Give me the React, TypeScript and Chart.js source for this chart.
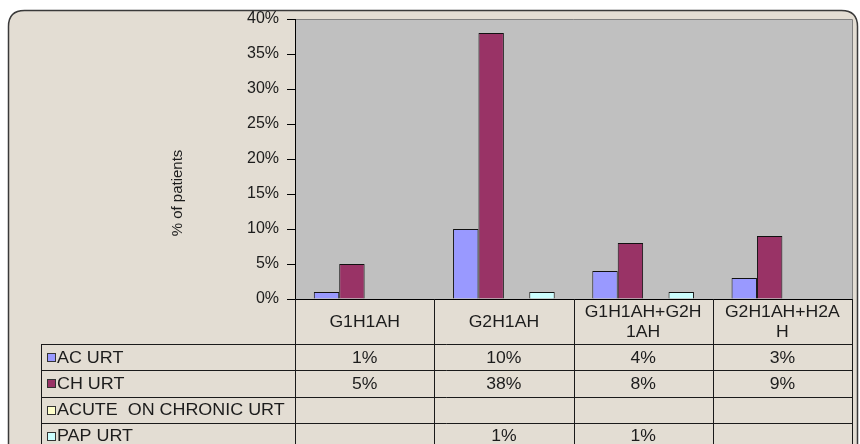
import React, { useEffect, useRef } from "react";
import { Chart, registerables } from "chart.js";

Chart.register(...registerables);

const categories = ["G1H1AH", "G2H1AH", "G1H1AH+G2H1AH", "G2H1AH+H2AH"];
const headerLines = [["G1H1AH"], ["G2H1AH"], ["G1H1AH+G2H", "1AH"], ["G2H1AH+H2A", "H"]];
const seriesNames = ["AC URT", "CH URT", "ACUTE  ON CHRONIC URT", "PAP URT"];
const acUrt = [1, 10, 4, 3];
const chUrt = [5, 38, 8, 9];
const acuteOnChronicUrt: (number | null)[] = [null, null, null, null];
const papUrt: (number | null)[] = [null, 1, 1, null];
const seriesColors = ["#9999FF", "#993366", "#FFFFCC", "#CCFFFF"];
const yTicks = [0, 5, 10, 15, 20, 25, 30, 35, 40];
const yTitle = "% of patients";

const FONT = '"Liberation Sans", Arial, sans-serif';
const TEXT = "#1c1c1c";

function stretchText(ctx: any, text: string, x: number, y: number, sx: number) {
  ctx.save();
  ctx.translate(x, y);
  ctx.scale(sx, 1);
  ctx.fillText(text, 0, 0);
  ctx.restore();
}

const tablePlugin = {
  id: "excelTable",
  beforeDraw(chart: any) {
    const { ctx, chartArea } = chart;
    ctx.save();
    ctx.fillStyle = "#ffffff";
    ctx.fillRect(0, 0, chart.width, chart.height);
    const fx = 8.5, fy = 10.5, fw = 849, fh = 470, r = 16;
    ctx.beginPath();
    ctx.moveTo(fx + r, fy);
    ctx.lineTo(fx + fw - r, fy);
    ctx.quadraticCurveTo(fx + fw, fy, fx + fw, fy + r);
    ctx.lineTo(fx + fw, fy + fh - r);
    ctx.quadraticCurveTo(fx + fw, fy + fh, fx + fw - r, fy + fh);
    ctx.lineTo(fx + r, fy + fh);
    ctx.quadraticCurveTo(fx, fy + fh, fx, fy + fh - r);
    ctx.lineTo(fx, fy + r);
    ctx.quadraticCurveTo(fx, fy, fx + r, fy);
    ctx.closePath();
    ctx.fillStyle = "#E3DDD3";
    ctx.fill();
    ctx.lineWidth = 1.5;
    ctx.strokeStyle = "#3a3a3a";
    ctx.stroke();
    ctx.fillStyle = "#C0C0C0";
    ctx.fillRect(chartArea.left, chartArea.top, chartArea.right - chartArea.left, chartArea.bottom - chartArea.top);
    ctx.strokeStyle = "#808080";
    ctx.lineWidth = 1;
    ctx.beginPath();
    ctx.moveTo(chartArea.left, chartArea.top + 0.5);
    ctx.lineTo(chartArea.right + 0.5, chartArea.top + 0.5);
    ctx.lineTo(chartArea.right + 0.5, chartArea.bottom);
    ctx.stroke();
    ctx.restore();
  },
  afterDraw(chart: any) {
    const { ctx, chartArea } = chart;
    const xs = chart.scales.x;
    const n = categories.length;
    const colW = (chartArea.right - chartArea.left) / n;
    const tableLeft = 41;
    const headerBottom = 344;
    const rowH = 26.3;
    const bottom = chart.height + 5;
    ctx.save();
    ctx.strokeStyle = "#1a1a1a";
    ctx.lineWidth = 1;
    for (let i = 0; i <= n; i++) {
      const x = Math.round(chartArea.left + i * colW) + 0.5;
      ctx.beginPath();
      ctx.moveTo(x, chartArea.bottom);
      ctx.lineTo(x, bottom);
      ctx.stroke();
    }
    ctx.beginPath();
    ctx.moveTo(tableLeft + 0.5, headerBottom);
    ctx.lineTo(tableLeft + 0.5, bottom);
    ctx.stroke();
    for (let j = 0; j < seriesNames.length; j++) {
      const y = Math.round(headerBottom + j * rowH) + 0.5;
      ctx.beginPath();
      ctx.moveTo(tableLeft, y);
      ctx.lineTo(Math.round(chartArea.right) + 0.5, y);
      ctx.stroke();
    }
    ctx.fillStyle = TEXT;
    ctx.font = `16px ${FONT}`;
    ctx.textAlign = "center";
    ctx.textBaseline = "middle";
    const headerMid = (chartArea.bottom + headerBottom) / 2 + 1;
    headerLines.forEach((lines, i) => {
      const cx = xs.getPixelForValue(i);
      const lh = 20;
      lines.forEach((ln, k) => {
        const y = headerMid + (k - (lines.length - 1) / 2) * lh;
        stretchText(ctx, ln, cx, y, 1.1);
      });
    });
    const allData = [acUrt, chUrt, acuteOnChronicUrt, papUrt];
    allData.forEach((vals, j) => {
      const cy = headerBottom + j * rowH + rowH / 2;
      ctx.fillStyle = seriesColors[j];
      ctx.fillRect(47.5, Math.round(cy - 4) + 0.5, 8, 8);
      ctx.strokeStyle = "#333333";
      ctx.strokeRect(47.5, Math.round(cy - 4) + 0.5, 8, 8);
      ctx.fillStyle = TEXT;
      ctx.textAlign = "left";
      stretchText(ctx, seriesNames[j], 57, cy + 1, 1.12);
      ctx.textAlign = "center";
      vals.forEach((v, i) => {
        if (v === null || v === undefined) return;
        stretchText(ctx, `${v}%`, xs.getPixelForValue(i), cy + 1, 1.1);
      });
    });
    ctx.save();
    ctx.translate(178, 193);
    ctx.rotate(-Math.PI / 2);
    ctx.font = `15px ${FONT}`;
    ctx.textAlign = "center";
    ctx.textBaseline = "middle";
    ctx.fillStyle = TEXT;
    ctx.fillText(yTitle, 0, 0);
    ctx.restore();
    ctx.restore();
  },
};

export default function App() {
  const ref = useRef<HTMLCanvasElement | null>(null);
  useEffect(() => {
    document.body.style.margin = "0";
    const canvas = ref.current;
    if (!canvas) return;
    const chart = new Chart(canvas, {
      type: "bar",
      data: {
        labels: categories,
        datasets: [acUrt, chUrt, acuteOnChronicUrt, papUrt].map((d, i) => ({
          label: seriesNames[i],
          data: d,
          backgroundColor: seriesColors[i],
          borderColor: "#111111",
          borderWidth: 1,
          categoryPercentage: 0.73,
          barPercentage: 1,
        })),
      },
      options: {
        responsive: false,
        animation: false,
        layout: { padding: { left: 0, top: 19, right: 8, bottom: 145 } },
        plugins: { legend: { display: false }, tooltip: { enabled: false }, title: { display: false } },
        scales: {
          x: {
            grid: { display: false },
            ticks: { display: false },
            border: { display: true, color: "#000000", width: 1 },
            afterFit: (s: any) => {
              s.height = 0;
            },
          },
          y: {
            min: 0,
            max: 40,
            afterBuildTicks: (s: any) => {
              s.ticks = yTicks.map((v) => ({ value: v }));
            },
            ticks: {
              callback: (v: any) => `${v}%`,
              color: TEXT,
              font: { family: FONT, size: 16 },
              padding: 8,
            },
            grid: { drawOnChartArea: false, drawTicks: true, tickLength: 8, color: "#000000" },
            border: { display: true, color: "#000000", width: 1 },
            afterFit: (s: any) => {
              s.width = 295;
            },
          },
        },
      },
      plugins: [tablePlugin],
    });
    return () => chart.destroy();
  }, []);
  return (
    <div style={{ position: "absolute", left: 0, top: 0, width: 860, height: 444 }}>
      <canvas ref={ref} width={860} height={444} style={{ display: "block" }} />
    </div>
  );
}
